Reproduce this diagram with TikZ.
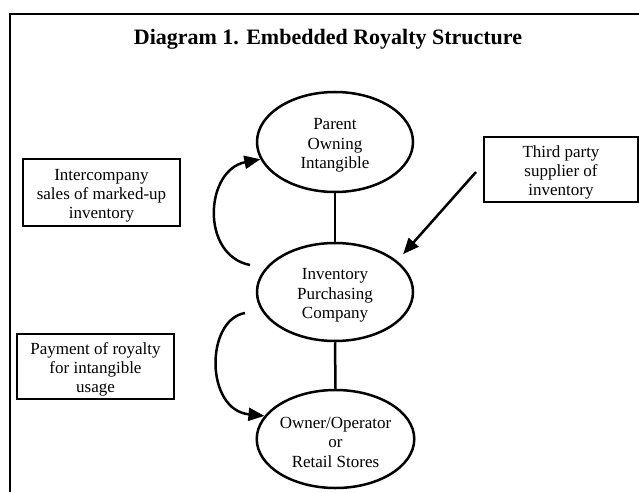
\documentclass[tikz,border=0pt]{standalone}
\usepackage{fontspec}
\setmainfont{Liberation Serif}
\usetikzlibrary{shapes.geometric,arrows.meta}
\newcommand{\toppad}{\rule{0pt}{18pt}}
\begin{document}
\begin{tikzpicture}[x=1pt,y=-1pt,
  oval/.style={ellipse,draw,line width=2.5pt,inner sep=0pt,minimum width=156pt,minimum height=98pt,
    align=center,font=\fontsize{17}{19.5}\selectfont},
  labelbox/.style={rectangle,draw,line width=2.5pt,inner sep=0pt,align=center,
    font=\fontsize{17}{19}\selectfont},
  link/.style={line width=2.5pt},
  flow/.style={line width=2.5pt,-{Triangle[length=16pt,width=13pt]}}
]
\useasboundingbox (0,0) rectangle (639,492);
\clip (0,0) rectangle (639,492);
\fill[white] (0,0) rectangle (639,492);
% frame
\draw[line width=2.5pt] (10,492) -- (10,14) -- (645,14);
% title
\node[anchor=base,font=\fontsize{22}{26}\selectfont\bfseries] (title) at (328,45) {Diagram 1. Embedded Royalty Structure};
% ellipses
\node[oval,minimum height=100pt] (par) at (335,142) {\toppad Parent\\Owning\\Intangible};
\node[oval] (inv) at (335,292) {\toppad Inventory\\Purchasing\\Company};
\node[oval] (own) at (335.5,439) {\toppad Owner/Operator\\or\\Retail Stores};
% boxes
\node[labelbox,minimum width=157pt,minimum height=67pt] (ic) at (101.5,192.5) {\toppad Intercompany\\sales of marked-up\\inventory};
\node[labelbox,minimum width=157pt,minimum height=65pt] (pay) at (95.5,366.5) {\toppad Payment of royalty\\for intangible\\usage};
\node[labelbox,minimum width=154pt,minimum height=65pt] (tp) at (561,169.5) {\toppad Third party\\supplier of\\inventory};
% links
\draw[link] (par.south) -- (inv.north);
\draw[link] (inv.south) -- (own.north);
% curved flows
\coordinate (c1) at (250,265);
\draw[flow] (c1) .. controls (200,255) and (205,170) .. (par.193);
\coordinate (c2) at (245,313);
\draw[flow] (c2) .. controls (205,320) and (205,410) .. (own.162);
\coordinate (c3) at (476,172);
\draw[flow] (c3) -- ([shift={(9.5,-4)}]inv.30);
\end{tikzpicture}
\end{document}
